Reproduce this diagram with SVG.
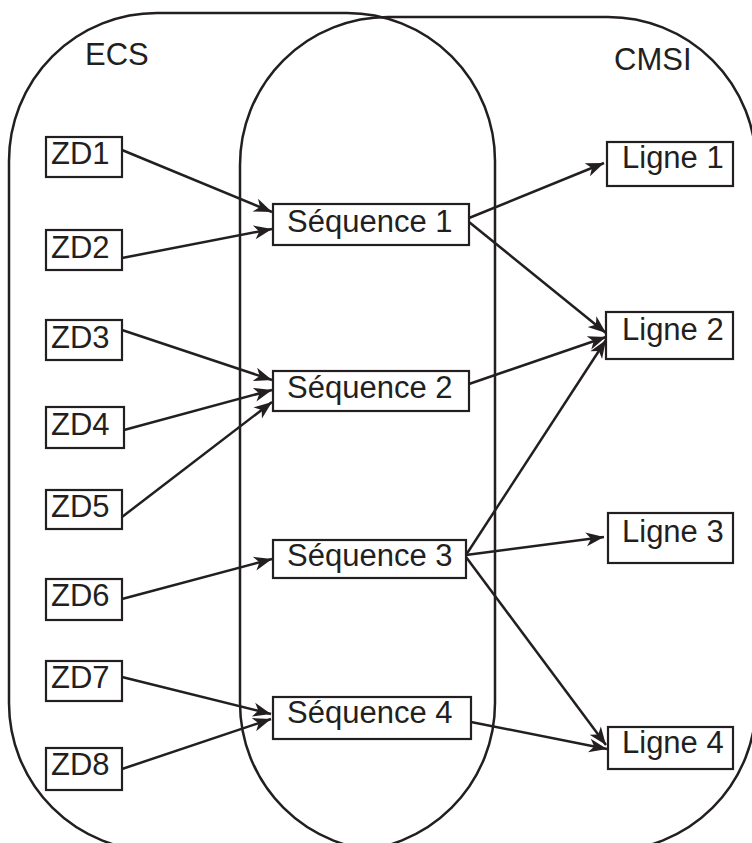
<svg xmlns="http://www.w3.org/2000/svg" width="752" height="843" viewBox="0 0 752 843">
<style>
.reg{fill:none;stroke:#231f20;stroke-width:2.5}
.box{fill:#fff;stroke:#231f20;stroke-width:2.2}
.t{font-family:"Liberation Sans",Arial,sans-serif;font-size:31px;fill:#231f20}
.c{fill:none;stroke:#231f20;stroke-width:2.5}
</style>
<defs>
<marker id="ah" viewBox="-20 -9 22 18" markerWidth="22" markerHeight="18" refX="0" refY="0" orient="auto" markerUnits="userSpaceOnUse">
<path d="M-18,-7 L0,0 L-18,7 L-13,0 Z" fill="#231f20"/>
</marker>
</defs>
<rect width="752" height="843" fill="#fff"/>
<g id="ECS">
<rect class="reg" x="9" y="13" width="486" height="838" rx="148" ry="148"/>
<text class="t" x="85" y="65">ECS</text>
</g>
<g id="CMSI">
<rect class="reg" x="240" y="17" width="516" height="834" rx="148" ry="148"/>
<text class="t" x="614" y="70">CMSI</text>
</g>
<g id="connectors">
<line class="c" x1="122" y1="150" x2="272" y2="212" marker-end="url(#ah)"/>
<line class="c" x1="122" y1="258" x2="272" y2="229" marker-end="url(#ah)"/>
<line class="c" x1="122" y1="330" x2="272" y2="380" marker-end="url(#ah)"/>
<line class="c" x1="124" y1="430" x2="272" y2="390" marker-end="url(#ah)"/>
<line class="c" x1="122" y1="517" x2="272" y2="402" marker-end="url(#ah)"/>
<line class="c" x1="122" y1="599" x2="272" y2="559" marker-end="url(#ah)"/>
<line class="c" x1="122" y1="677" x2="271" y2="714" marker-end="url(#ah)"/>
<line class="c" x1="122" y1="769" x2="271" y2="719" marker-end="url(#ah)"/>
<line class="c" x1="469" y1="218" x2="604" y2="163" marker-end="url(#ah)"/>
<line class="c" x1="469" y1="222" x2="606" y2="333" marker-end="url(#ah)"/>
<line class="c" x1="469" y1="384" x2="606" y2="337" marker-end="url(#ah)"/>
<line class="c" x1="466" y1="555" x2="606" y2="340" marker-end="url(#ah)"/>
<line class="c" x1="466" y1="555" x2="604" y2="537" marker-end="url(#ah)"/>
<line class="c" x1="466" y1="557" x2="606" y2="745" marker-end="url(#ah)"/>
<line class="c" x1="471" y1="722" x2="607" y2="749" marker-end="url(#ah)"/>
</g>
<g id="ZD1"><rect class="box" x="46" y="137" width="76" height="40"/><text class="t" x="51" y="164">ZD1</text></g>
<g id="ZD2"><rect class="box" x="46" y="230" width="76" height="40"/><text class="t" x="51" y="258">ZD2</text></g>
<g id="ZD3"><rect class="box" x="46" y="320" width="76" height="40"/><text class="t" x="51" y="348">ZD3</text></g>
<g id="ZD4"><rect class="box" x="46" y="407" width="78" height="41"/><text class="t" x="51" y="435">ZD4</text></g>
<g id="ZD5"><rect class="box" x="46" y="490" width="76" height="39"/><text class="t" x="51" y="517">ZD5</text></g>
<g id="ZD6"><rect class="box" x="46" y="579" width="76" height="41"/><text class="t" x="51" y="606">ZD6</text></g>
<g id="ZD7"><rect class="box" x="46" y="661" width="76" height="40"/><text class="t" x="51" y="688">ZD7</text></g>
<g id="ZD8"><rect class="box" x="46" y="748" width="76" height="42"/><text class="t" x="51" y="775">ZD8</text></g>
<g id="Seq1"><rect class="box" x="273" y="204" width="196" height="41"/><text class="t" x="287" y="232">Séquence 1</text></g>
<g id="Seq2"><rect class="box" x="273" y="371" width="196" height="40"/><text class="t" x="287" y="398">Séquence 2</text></g>
<g id="Seq3"><rect class="box" x="273" y="540" width="193" height="38"/><text class="t" x="287" y="566">Séquence 3</text></g>
<g id="Seq4"><rect class="box" x="273" y="697" width="198" height="42"/><text class="t" x="287" y="723">Séquence 4</text></g>
<g id="Ligne1"><rect class="box" x="607" y="142" width="126" height="44"/><text class="t" x="622" y="168">Ligne 1</text></g>
<g id="Ligne2"><rect class="box" x="606" y="312" width="127" height="47"/><text class="t" x="622" y="340">Ligne 2</text></g>
<g id="Ligne3"><rect class="box" x="608" y="513" width="125" height="50"/><text class="t" x="622" y="542">Ligne 3</text></g>
<g id="Ligne4"><rect class="box" x="608" y="727" width="125" height="42"/><text class="t" x="622" y="753">Ligne 4</text></g>
</svg>
